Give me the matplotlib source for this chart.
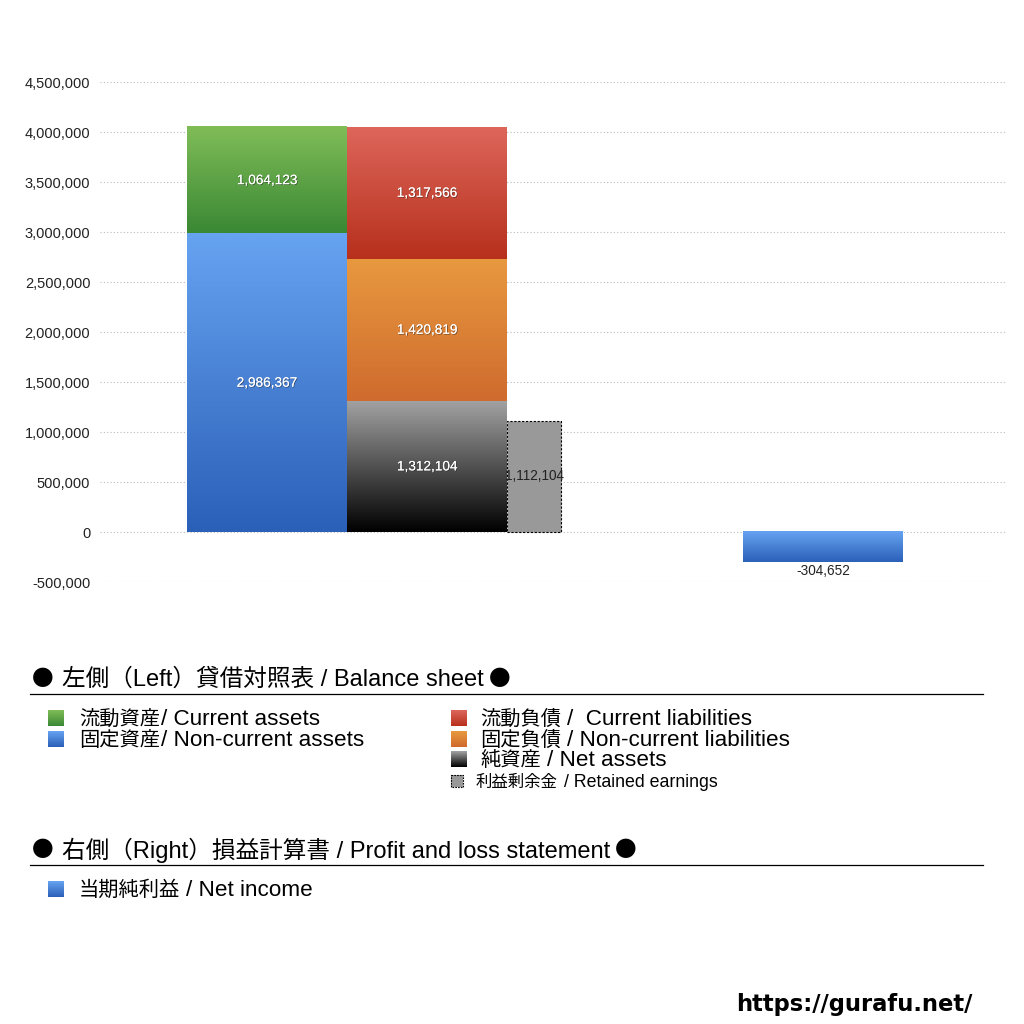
import numpy as np
import matplotlib.pyplot as plt
import matplotlib.patheffects as pe
from matplotlib.colors import LinearSegmentedColormap

plt.rcParams['font.family'] = ['Liberation Sans', 'Noto Sans CJK JP', 'DejaVu Sans']
CJK = ['Noto Sans CJK JP']
LAT = ['Liberation Sans', 'DejaVu Sans']

# balance sheet (left) and P/L (right)
assets_labels = ["固定資産/ Non-current assets", "流動資産/ Current assets"]
assets_values = [2986367, 1064123]
liab_labels = ["純資産 / Net assets", "固定負債 / Non-current liabilities", "流動負債 /  Current liabilities"]
liab_values = [1312104, 1420819, 1317566]
retained_label = "利益剰余金 / Retained earnings"
retained_value = 1112104
pl_label = "当期純利益 / Net income"
net_income = -304652
header_left = "左側（Left）貸借対照表 / Balance sheet"
header_right = "右側（Right）損益計算書 / Profit and loss statement"

yticks = [-500000, 0, 500000, 1000000, 1500000, 2000000, 2500000, 3000000, 3500000, 4000000, 4500000]

# gradient colours (top, bottom)
blue = ("#66a3f1", "#2b60b8")
green = ("#80bd58", "#3a8834")
red = ("#dd665b", "#b7301c")
orange = ("#e8993f", "#cf6b2e")
black = ("#a3a3a3", "#000000")

fig = plt.figure(figsize=(10.24, 10.24), dpi=100)
ax = fig.add_axes([100/1024, (1024-582)/1024, 905/1024, 500/1024])


def grad_bar(ax, x, h, bottom, width, cols):
    rect = ax.bar(x, h, width=width, bottom=bottom, color=cols[1], linewidth=0, zorder=2)[0]
    x0, y0 = rect.get_x(), rect.get_y()
    w, hh = rect.get_width(), rect.get_height()
    cmap = LinearSegmentedColormap.from_list("g", [cols[1], cols[0]])
    grad = np.linspace(0, 1, 256).reshape(-1, 1)
    ax.imshow(grad, cmap=cmap, aspect='auto', origin='lower',
              extent=(x0, x0 + w, min(y0, y0 + hh), max(y0, y0 + hh)), zorder=3)
    return rect


shadow = [pe.withSimplePatchShadow(offset=(0.6, -0.6), shadow_rgbFace='#222222', alpha=0.55), pe.Normal()]
lblsize = 9.8

x_assets, x_liab, x_pl = 1.044, 2.044, 4.519
# assets column
bottom = 0
for v, cols in zip(assets_values, [blue, green]):
    grad_bar(ax, x_assets, v, bottom, 1.0, cols)
    ax.text(x_assets, bottom + v / 2, f"{v:,}", color='white', ha='center', va='center',
            fontsize=lblsize, zorder=5, path_effects=shadow)
    bottom += v

# liabilities + net assets column
bottom = 0
for v, cols in zip(liab_values, [black, orange, red]):
    grad_bar(ax, x_liab, v, bottom, 1.0, cols)
    ax.text(x_liab, bottom + v / 2, f"{v:,}", color='white', ha='center', va='center',
            fontsize=lblsize, zorder=5, path_effects=shadow)
    bottom += v

# retained earnings
rw = 0.3375
ax.bar(x_liab + 0.5 + rw / 2, retained_value, width=rw, color='#999999', edgecolor='black',
       linestyle=(0, (2, 1.5)), linewidth=0.8, zorder=2)
ax.text(x_liab + 0.5 + rw / 2, retained_value / 2, f"{retained_value:,}", color='#222222',
        ha='center', va='center', fontsize=lblsize, zorder=5)

# net income
grad_bar(ax, x_pl, net_income, 0, 1.0, blue)
ax.text(x_pl, net_income - 20000, f"{net_income:,}", color='#222222', ha='center', va='top',
        fontsize=lblsize, zorder=5)

ax.set_xlim(0, 905 / 160)
ax.set_ylim(-500000, 4500000)
ax.set_yticks(yticks)
ax.set_yticklabels([f"{t:,}" for t in yticks], fontsize=10.5, color='#222222')
ax.set_xticks([])
ax.tick_params(axis='y', length=0, pad=7)
for s in ax.spines.values():
    s.set_visible(False)
ax.grid(axis='y', linestyle=(0, (1, 2)), color='#bbbbbb', linewidth=0.8, zorder=0)
ax.set_axisbelow(True)

# legend area drawn on an overlay in pixel coords
ov = fig.add_axes([0, 0, 1, 1], zorder=-1)
ov.set_xlim(0, 1024)
ov.set_ylim(1024, 0)
ov.axis('off')
renderer = fig.canvas.get_renderer()


def swatch(x, y, size, cols, dashed=False):
    cmap = LinearSegmentedColormap.from_list("s", [cols[0], cols[1]])
    grad = np.linspace(0, 1, 64).reshape(-1, 1)
    ov.imshow(grad, cmap=cmap, aspect='auto', extent=(x, x + size, y + size / 2, y - size / 2))
    if dashed:
        ov.add_patch(plt.Rectangle((x, y - size / 2), size, size, fill=False, edgecolor='black',
                                   linestyle=(0, (1.5, 1)), linewidth=0.8))


def header(y, text):
    ov.text(32, y, "●", fontsize=15.5, va='center', family=CJK)
    t = ov.text(62, y, text, fontsize=17, va='center')
    x_end = t.get_window_extent(renderer).x1
    ov.text(x_end + 5, y, "●", fontsize=15.5, va='center', family=CJK)


def item(x, base, label, cs=14.6, ls=16.2):
    # japanese part and english part set in their own sizes
    i = label.index("/")
    jp, en = label[:i].rstrip(), label[i:]
    gap = 6 if label[i - 1] == " " else 1
    t = ov.text(x, base, jp, fontsize=cs, va='baseline', family=CJK)
    x_end = t.get_window_extent(renderer).x1
    ov.text(x_end + gap, base, en, fontsize=ls, va='baseline', family=LAT)


header(679, header_left)
ov.plot([30, 983], [694, 694], color='black', linewidth=0.9)
swatch(48, 718, 16, green)
item(79, 725, assets_labels[1])
swatch(48, 739, 16, blue)
item(79, 745.5, assets_labels[0])
swatch(451, 718, 16, red)
item(480, 725, liab_labels[2])
swatch(451, 739, 16, orange)
item(480, 745.5, liab_labels[1])
swatch(451, 759, 16, black)
item(480, 766, liab_labels[0])
swatch(451, 781, 12, ("#999999", "#999999"), dashed=True)
item(476, 787, retained_label, cs=11.8, ls=12.8)

header(850, header_right)
ov.plot([30, 983], [865, 865], color='black', linewidth=0.9)
swatch(48, 889, 16, blue)
item(79, 896, pl_label)

ov.text(972, 1004, "https://gurafu.net/", fontsize=16.3, fontweight='bold', ha='right', va='center',
        family='DejaVu Sans')

fig.savefig("out.png", dpi=100)
